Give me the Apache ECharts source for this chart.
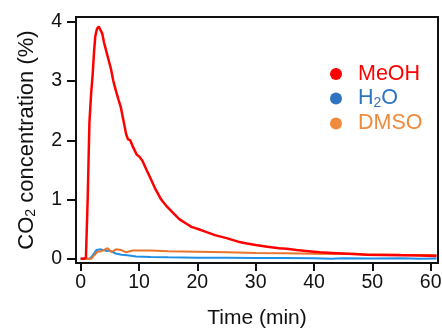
<!DOCTYPE html>
<html><head><meta charset="utf-8">
<script src="https://cdn.jsdelivr.net/npm/echarts@6/dist/echarts.min.js"></script>
<style>html,body{margin:0;padding:0;background:#fff}#c{width:442px;height:330px}</style>
</head><body><div id="c"></div>
<script>
// time (min), CO2 concentration (%)
const meohT = [0,0.5,0.9,1.2,1.5,1.8,2.05,2.3,2.5,2.8,3.1,3.4,3.7,4.0,4.4,4.8,5.2,5.6,6.0,6.5,6.9,7.3,7.8,8.1,8.5,9.0,9.6,10.1,10.6,11.3,12.0,12.8,13.8,14.8,15.8,16.9,18.0,19.0,20.5,21.6,23,25,27,28.5,30,32,34,35.3,37,39,41,43,45,47,49,52,55,58,61];
const meohV = [0,0,0.02,1.0,2.3,2.8,3.1,3.5,3.75,3.88,3.92,3.9,3.8,3.65,3.5,3.35,3.2,3.0,2.85,2.68,2.55,2.35,2.1,2.02,2.0,1.88,1.76,1.72,1.65,1.5,1.35,1.18,1.0,0.88,0.78,0.67,0.6,0.54,0.49,0.45,0.4,0.35,0.29,0.26,0.235,0.205,0.18,0.17,0.15,0.13,0.11,0.1,0.09,0.08,0.07,0.065,0.06,0.055,0.05];
const h2oT = [0,1.5,2.0,2.7,3.5,4.5,5.0,6,7,8,9.5,12,15,20,25,30,35,40,43,45,50,55,58,61];
const h2oV = [0,0,0.05,0.15,0.16,0.13,0.14,0.09,0.07,0.06,0.04,0.03,0.025,0.02,0.02,0.015,0.015,0.01,0.0,0.01,0.005,0.01,0.0,0.005];
const dmsoT = [0,1.0,1.8,2.3,2.9,3.5,4.05,4.6,5.2,5.6,6.05,6.9,7.8,8.9,10,12,15,20,25,30,35,40,45,50,55,61];
const dmsoV = [0,0,0,0.06,0.12,0.13,0.15,0.18,0.12,0.13,0.16,0.15,0.11,0.14,0.14,0.14,0.13,0.12,0.11,0.1,0.095,0.085,0.08,0.075,0.07,0.065];
const xTicks = [0,10,20,30,40,50,60];
const yTicks = [0,1,2,3,4];

const zip = (t, v) => t.map((x, i) => [x, v[i]]);
const FONT = '"Liberation Sans", Arial, Helvetica, sans-serif';
const INK = '#111';
const X_MIN = -0.8, X_MAX = 61.25, Y_MIN = -0.07, Y_MAX = 4.08;
const chart = echarts.init(document.getElementById('c'), null, {renderer: 'canvas'});
chart.setOption({
  animation: false,
  backgroundColor: '#fff',
  grid: {left: 76, top: 17, right: 4, bottom: 67, outerBoundsMode: 'none', show: true, borderColor: INK, borderWidth: 2},
  legend: {
    orient: 'vertical', left: 325, top: 58, itemWidth: 34, itemHeight: 12, itemGap: 2.5, icon: 'circle',
    textStyle: {fontFamily: FONT, fontSize: 21.5, rich: {
      a: {fontFamily: FONT, fontSize: 21.5},
      s: {fontFamily: FONT, fontSize: 14, verticalAlign: 'bottom', padding: [9, 0, 0, 0]}}},
    data: [
      {name: 'MeOH', itemStyle: {color: '#ff0000'}, textStyle: {color: '#ff0000'}},
      {name: 'H2O', itemStyle: {color: '#2f74c0'}, textStyle: {color: '#2f74c0'}},
      {name: 'DMSO', itemStyle: {color: '#f08a3c'}, textStyle: {color: '#f08a3c'}}
    ],
    formatter: n => n === 'H2O' ? '{a|H}{s|2}{a|O}' : n
  },
  xAxis: {
    type: 'value', min: X_MIN, max: X_MAX, position: 'bottom',
    name: 'Time (min)', nameLocation: 'middle', nameGap: 45,
    nameTextStyle: {fontFamily: FONT, fontSize: 21, color: INK},
    axisLine: {show: true, onZero: false, lineStyle: {color: INK, width: 2}}, splitLine: {show: false},
    axisTick: {show: true, inside: false, length: 8, lineStyle: {color: INK, width: 2}, customValues: xTicks},
    axisLabel: {margin: 10, fontFamily: FONT, fontSize: 19.5, color: INK, customValues: xTicks}
  },
  yAxis: {
    type: 'value', min: Y_MIN, max: Y_MAX, position: 'left',
    name: '{a|CO}{s|2}{a| concentration (%)}', nameLocation: 'middle', nameGap: 38,
    nameTextStyle: {fontFamily: FONT, fontSize: 22, color: INK, rich: {
      a: {fontFamily: FONT, fontSize: 22, color: INK},
      s: {fontFamily: FONT, fontSize: 14, color: INK, verticalAlign: 'bottom', padding: [9, 0, 0, 0]}}},
    axisLine: {show: true, onZero: false, lineStyle: {color: INK, width: 2}}, splitLine: {show: false},
    axisTick: {show: true, inside: false, length: 9, lineStyle: {color: INK, width: 2}, customValues: yTicks},
    axisLabel: {margin: 14, fontFamily: FONT, fontSize: 19.5, color: INK, customValues: yTicks}
  },
  series: [
    {name: 'H2O', type: 'line', showSymbol: false, data: zip(h2oT, h2oV), color: '#2f74c0', lineStyle: {color: '#1f8fe6', width: 2}},
    {name: 'DMSO', type: 'line', showSymbol: false, data: zip(dmsoT, dmsoV), color: '#f08a3c', lineStyle: {color: '#e8742c', width: 2}},
    {name: 'MeOH', type: 'line', showSymbol: false, data: zip(meohT, meohV), color: '#ff0000', lineStyle: {color: '#ff0000', width: 2.5}}
  ]
});
// plot frame derived from the grid's own scales
const p0 = chart.convertToPixel({xAxisIndex: 0, yAxisIndex: 0}, [X_MIN, Y_MAX]);
const p1 = chart.convertToPixel({xAxisIndex: 0, yAxisIndex: 0}, [X_MAX, Y_MIN]);
chart.setOption({
  graphic: [{
    type: 'rect', z: 100, silent: true,
    shape: {x: p0[0], y: p0[1], width: p1[0] - p0[0], height: p1[1] - p0[1]},
    style: {fill: 'none', stroke: INK, lineWidth: 2}
  }]
});
</script></body></html>
